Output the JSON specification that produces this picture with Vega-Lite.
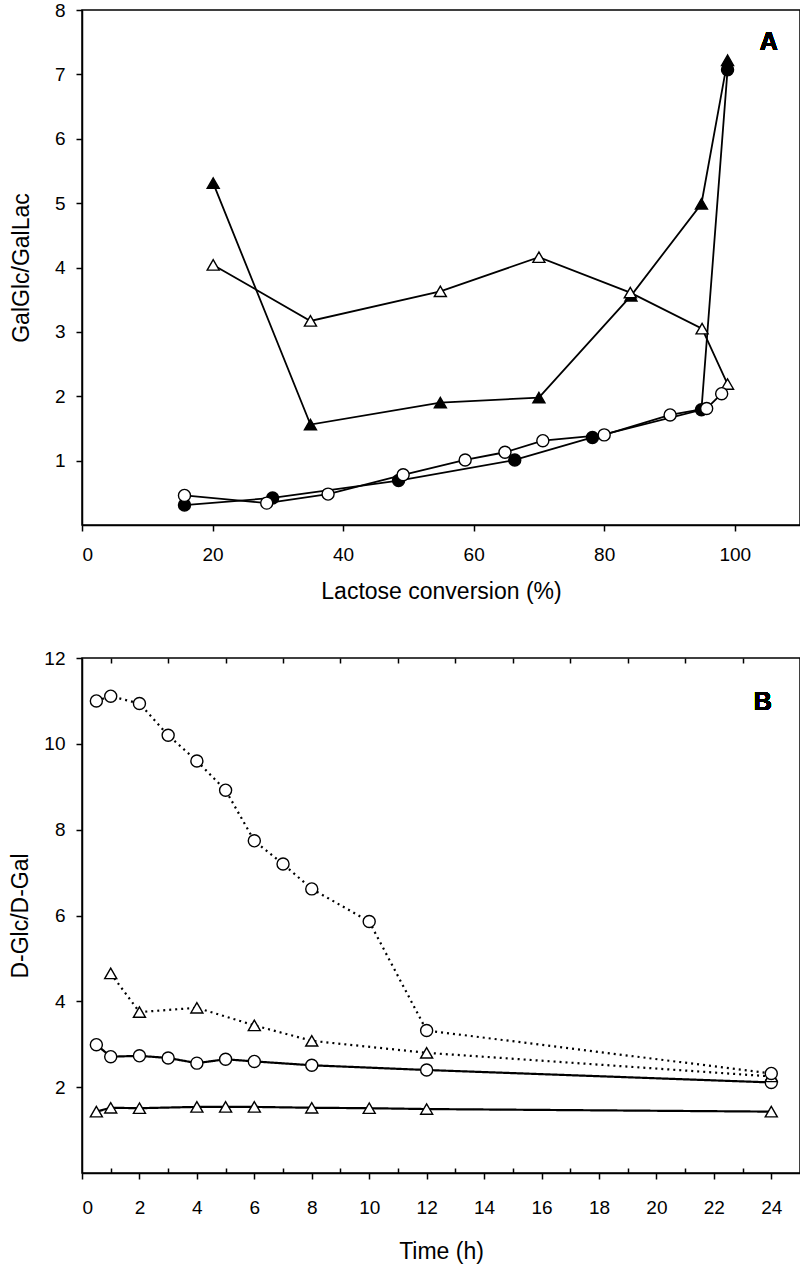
{
  "$schema": "https://vega.github.io/schema/vega-lite/v6.json",
  "padding": {"top": 0, "left": 9, "right": 2, "bottom": 0},
  "spacing": 44,
  "resolve": {"scale": {"shape": "independent", "fill": "independent", "strokeDash": "independent", "strokeWidth": "independent"}},
  "datasets": {
    "a": [
      {"s": "cf", "x": 15.7, "y": 0.31}, {"s": "cf", "x": 29.2, "y": 0.42}, {"s": "cf", "x": 48.5, "y": 0.69}, {"s": "cf", "x": 66.3, "y": 1.01}, {"s": "cf", "x": 78.2, "y": 1.36}, {"s": "cf", "x": 94.9, "y": 1.79}, {"s": "cf", "x": 98.9, "y": 7.07},
      {"s": "tf", "x": 20.1, "y": 5.31}, {"s": "tf", "x": 35.0, "y": 1.56}, {"s": "tf", "x": 54.9, "y": 1.9}, {"s": "tf", "x": 70.0, "y": 1.98}, {"s": "tf", "x": 84.1, "y": 3.56}, {"s": "tf", "x": 94.9, "y": 4.99}, {"s": "tf", "x": 98.9, "y": 7.22},
      {"s": "to", "x": 20.1, "y": 4.04}, {"s": "to", "x": 35.0, "y": 3.17}, {"s": "to", "x": 54.9, "y": 3.63}, {"s": "to", "x": 70.0, "y": 4.16}, {"s": "to", "x": 84.0, "y": 3.61}, {"s": "to", "x": 95.0, "y": 3.05}, {"s": "to", "x": 98.9, "y": 2.19},
      {"s": "co", "x": 15.7, "y": 0.46}, {"s": "co", "x": 28.3, "y": 0.34}, {"s": "co", "x": 37.7, "y": 0.48}, {"s": "co", "x": 49.2, "y": 0.78}, {"s": "co", "x": 58.7, "y": 1.01}, {"s": "co", "x": 64.8, "y": 1.13}, {"s": "co", "x": 70.6, "y": 1.31}, {"s": "co", "x": 80.0, "y": 1.4}, {"s": "co", "x": 90.1, "y": 1.71}, {"s": "co", "x": 95.7, "y": 1.81}, {"s": "co", "x": 98.0, "y": 2.04}
    ],
    "b": [
      {"s": "ts", "x": 0.5, "y": 1.43}, {"s": "ts", "x": 1, "y": 1.52}, {"s": "ts", "x": 2, "y": 1.51}, {"s": "ts", "x": 4, "y": 1.54}, {"s": "ts", "x": 5, "y": 1.54}, {"s": "ts", "x": 6, "y": 1.54}, {"s": "ts", "x": 8, "y": 1.52}, {"s": "ts", "x": 10, "y": 1.51}, {"s": "ts", "x": 12, "y": 1.49}, {"s": "ts", "x": 24, "y": 1.43},
      {"s": "cs", "x": 0.5, "y": 2.99}, {"s": "cs", "x": 1, "y": 2.71}, {"s": "cs", "x": 2, "y": 2.73}, {"s": "cs", "x": 3, "y": 2.68}, {"s": "cs", "x": 4, "y": 2.56}, {"s": "cs", "x": 5, "y": 2.65}, {"s": "cs", "x": 6, "y": 2.6}, {"s": "cs", "x": 8, "y": 2.51}, {"s": "cs", "x": 12, "y": 2.4}, {"s": "cs", "x": 24, "y": 2.11},
      {"s": "td", "x": 1, "y": 4.65}, {"s": "td", "x": 2, "y": 3.75}, {"s": "td", "x": 4, "y": 3.85}, {"s": "td", "x": 6, "y": 3.44}, {"s": "td", "x": 8, "y": 3.08}, {"s": "td", "x": 12, "y": 2.8}, {"s": "td", "x": 24, "y": 2.25},
      {"s": "cd", "x": 0.5, "y": 11.0}, {"s": "cd", "x": 1, "y": 11.11}, {"s": "cd", "x": 2, "y": 10.94}, {"s": "cd", "x": 3, "y": 10.2}, {"s": "cd", "x": 4, "y": 9.6}, {"s": "cd", "x": 5, "y": 8.92}, {"s": "cd", "x": 6, "y": 7.74}, {"s": "cd", "x": 7, "y": 7.2}, {"s": "cd", "x": 8, "y": 6.62}, {"s": "cd", "x": 10, "y": 5.86}, {"s": "cd", "x": 12, "y": 3.32}, {"s": "cd", "x": 24, "y": 2.32}
    ]
  },
  "vconcat": [
    {
      "width": 718,
      "height": 515,
      "data": {"name": "a"},
      "layer": [
        {
          "mark": {"type": "line", "color": "black", "strokeWidth": 1.8},
          "encoding": {
            "x": {"field": "x", "type": "quantitative", "scale": {"domain": [0, 110], "nice": false, "zero": false},
                  "axis": {"title": "Lactose conversion (%)", "values": [0, 20, 40, 60, 80, 100], "format": "d", "labelPadding": 14, "titlePadding": 16}},
            "y": {"field": "y", "type": "quantitative", "scale": {"domain": [0, 8], "nice": false},
                  "axis": {"title": "GalGlc/GalLac", "values": [1, 2, 3, 4, 5, 6, 7, 8], "format": "d", "titlePadding": 21}},
            "detail": {"field": "s"}
          }
        },
        {
          "mark": {"type": "point", "filled": true, "stroke": "black", "strokeWidth": 1.4, "opacity": 1, "size": 145},
          "encoding": {
            "x": {"field": "x", "type": "quantitative"},
            "y": {"field": "y", "type": "quantitative"},
            "shape": {"field": "s", "type": "nominal", "legend": null, "scale": {"domain": ["cf", "tf", "to", "co"], "range": ["circle", "triangle-up", "triangle-up", "circle"]}},
            "fill": {"field": "s", "type": "nominal", "legend": null, "scale": {"domain": ["cf", "tf", "to", "co"], "range": ["black", "black", "white", "white"]}}
          }
        },
        {
          "mark": {"type": "text", "text": "A", "fontSize": 25, "fontWeight": "bold", "fill": "black", "align": "center", "baseline": "middle"},
          "encoding": {
            "x": {"datum": 105.2, "type": "quantitative"},
            "y": {"datum": 7.5, "type": "quantitative"}
          }
        }
      ]
    },
    {
      "width": 718,
      "height": 515,
      "data": {"name": "b"},
      "resolve": {"axis": {"x": "independent"}},
      "layer": [
        {
          "mark": {"type": "line", "color": "black"},
          "encoding": {
            "x": {"field": "x", "type": "quantitative", "scale": {"domain": [0, 25], "nice": false, "zero": false},
                  "axis": {"title": "Time (h)", "values": [0, 2, 4, 6, 8, 10, 12, 14, 16, 18, 20, 22, 24], "labelPadding": 19, "titlePadding": 23}},
            "y": {"field": "y", "type": "quantitative", "scale": {"domain": [0, 12], "nice": false},
                  "axis": {"title": "D-Glc/D-Gal", "values": [2, 4, 6, 8, 10, 12], "titlePadding": 11}},
            "detail": {"field": "s"},
            "strokeDash": {"field": "s", "type": "nominal", "legend": null, "scale": {"domain": ["ts", "cs", "td", "cd"], "range": [[1, 0], [1, 0], [2, 4], [2, 4]]}},
            "strokeWidth": {"field": "s", "type": "nominal", "legend": null, "scale": {"domain": ["ts", "cs", "td", "cd"], "range": [2.2, 2.2, 1.8, 1.8]}}
          }
        },
        {
          "mark": {"type": "point", "filled": true, "fill": "white", "stroke": "black", "strokeWidth": 1.4, "opacity": 1, "size": 145},
          "encoding": {
            "x": {"field": "x", "type": "quantitative",
                  "axis": {"orient": "top", "title": null, "values": [1, 3, 5, 7, 9, 11, 13, 15, 17, 19, 21, 23], "labels": false, "domain": false, "tickSize": -5}},
            "y": {"field": "y", "type": "quantitative"},
            "shape": {"field": "s", "type": "nominal", "legend": null, "scale": {"domain": ["ts", "cs", "td", "cd"], "range": ["triangle-up", "circle", "triangle-up", "circle"]}}
          }
        },
        {
          "mark": {"type": "text", "text": "B", "fontSize": 25, "fontWeight": "bold", "fill": "black", "align": "center", "baseline": "middle"},
          "encoding": {
            "x": {"datum": 23.7, "type": "quantitative",
                  "axis": {"orient": "bottom", "title": null, "values": [1, 3, 5, 7, 9, 11, 13, 15, 17, 19, 21, 23], "labels": false, "domain": false, "tickSize": -5}},
            "y": {"datum": 10.98, "type": "quantitative"}
          }
        }
      ]
    }
  ],
  "config": {
    "font": "Liberation Sans",
    "view": {"stroke": "black", "strokeWidth": 1.5},
    "axis": {"domainColor": "black", "domainWidth": 1.5, "tickColor": "black", "tickWidth": 1.5, "tickSize": 6,
             "labelFontSize": 19, "labelColor": "black", "labelPadding": 11, "labelFont": "Liberation Sans",
             "titleFontSize": 23, "titleFontWeight": "normal", "titleColor": "black", "titleFont": "Liberation Sans", "titlePadding": 18, "grid": false}
  }
}
